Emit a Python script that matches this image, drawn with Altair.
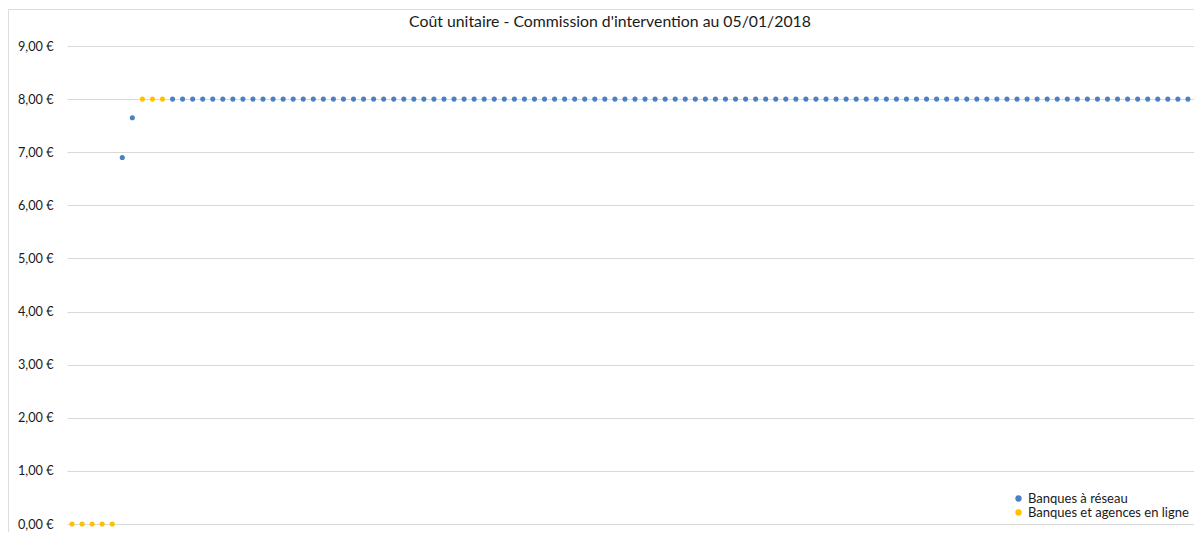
import altair as alt
import pandas as pd

# ---- data ----
title_text = "Coût unitaire - Commission d'intervention au 05/01/2018"
series_names = ["Banques à réseau", "Banques et agences en ligne"]
series_colors = ["#4C80C2", "#FFC000"]

# rank of each bank on the category axis (1 = leftmost)
online_rank = [1, 2, 3, 4, 5, 8, 9, 10]
online_cost = [0.00, 0.00, 0.00, 0.00, 0.00, 8.00, 8.00, 8.00]

network_rank = [6, 7] + list(range(11, 113))
network_cost = [
    6.90, 7.65,
    8.00, 8.00, 8.00, 8.00, 8.00, 8.00, 8.00, 8.00, 8.00, 8.00,
    8.00, 8.00, 8.00, 8.00, 8.00, 8.00, 8.00, 8.00, 8.00, 8.00,
    8.00, 8.00, 8.00, 8.00, 8.00, 8.00, 8.00, 8.00, 8.00, 8.00,
    8.00, 8.00, 8.00, 8.00, 8.00, 8.00, 8.00, 8.00, 8.00, 8.00,
    8.00, 8.00, 8.00, 8.00, 8.00, 8.00, 8.00, 8.00, 8.00, 8.00,
    8.00, 8.00, 8.00, 8.00, 8.00, 8.00, 8.00, 8.00, 8.00, 8.00,
    8.00, 8.00, 8.00, 8.00, 8.00, 8.00, 8.00, 8.00, 8.00, 8.00,
    8.00, 8.00, 8.00, 8.00, 8.00, 8.00, 8.00, 8.00, 8.00, 8.00,
    8.00, 8.00, 8.00, 8.00, 8.00, 8.00, 8.00, 8.00, 8.00, 8.00,
    8.00, 8.00, 8.00, 8.00, 8.00, 8.00, 8.00, 8.00, 8.00, 8.00,
    8.00, 8.00,
]
y_ticks = [0, 1, 2, 3, 4, 5, 6, 7, 8, 9]

df = pd.concat([
    pd.DataFrame({"rank": network_rank, "cost": network_cost, "serie": series_names[0]}),
    pd.DataFrame({"rank": online_rank, "cost": online_cost, "serie": series_names[1]}),
])

FONT = "Lato"

chart = alt.Chart(df).mark_circle(size=26, opacity=1).encode(
    x=alt.X("rank:Q",
            scale=alt.Scale(domain=[0.5, 113.5], range=[59, 1195], nice=False, zero=False),
            axis=None),
    y=alt.Y("cost:Q",
            scale=alt.Scale(domain=[0, 9], range=[515, 37], nice=False),
            axis=alt.Axis(values=y_ticks, format=",.2f",
                          labelExpr="replace(datum.label, '.', ',') + ' €'",
                          offset=-59, labelPadding=14, domain=False, ticks=False,
                          grid=True, gridColor="#d9d9d9", gridWidth=1,
                          labelFont=FONT, labelFontSize=12.7, labelColor="#1a1a1a",
                          title=None)),
    color=alt.Color("serie:N",
                    scale=alt.Scale(domain=series_names, range=series_colors),
                    legend=alt.Legend(title=None, orient="none", legendX=1004, legendY=483,
                                      symbolType="circle", symbolSize=40,
                                      labelFont=FONT, labelFontSize=13, labelColor="#1a1a1a",
                                      labelLimit=400, rowPadding=0, labelOffset=3)),
).properties(
    width=1204,
    height=560,
    title=alt.TitleParams(title_text, anchor="middle", offset=-22, font=FONT,
                          fontSize=15.8, fontWeight="normal", color="#1a1a1a"),
    autosize=alt.AutoSizeParams(type="none"),
    padding={"left": 0, "top": 1, "right": -18, "bottom": -37},
).configure_view(
    stroke="#404040", strokeWidth=1
).configure(background="white")

chart.save("out.html", embed_options={"renderer": "svg", "actions": False})
